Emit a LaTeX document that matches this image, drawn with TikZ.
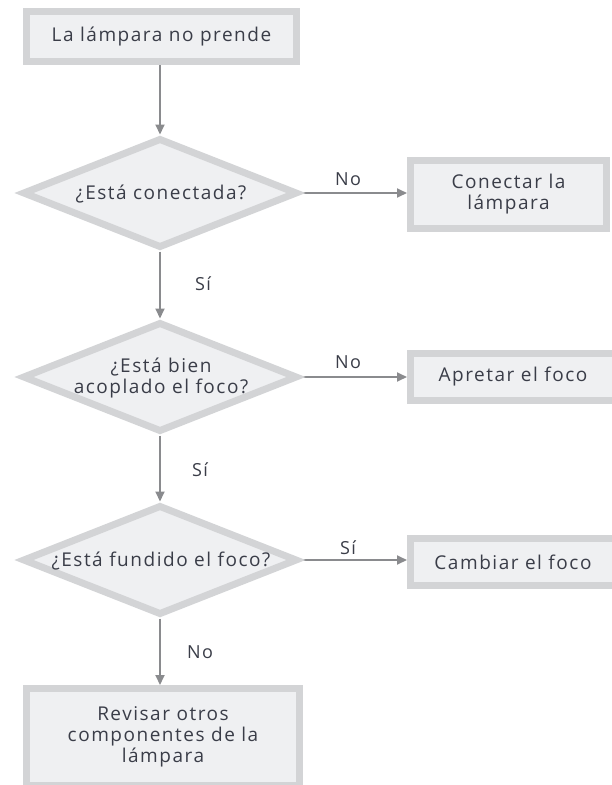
\documentclass[tikz,border=0pt]{standalone}
\usepackage{fontspec}
\setmainfont{Open Sans}[LetterSpace=8]
\usetikzlibrary{shapes.geometric,arrows.meta}
\definecolor{bordergray}{HTML}{D3D4D6}
\definecolor{fillgray}{HTML}{EFF0F2}
\definecolor{arrgray}{HTML}{8A8B8E}
\definecolor{txt}{HTML}{3A3D48}
\pgfdeclarelayer{bg}
\pgfsetlayers{bg,main}
\tikzset{
  box/.style={rectangle, draw=bordergray, line width=7pt, fill=fillgray, inner sep=0pt,
    align=center, text=txt, font=\fontsize{19}{21}\selectfont},
  dia/.style={diamond, draw=bordergray, line width=7pt, fill=fillgray, inner sep=0pt,
    minimum width=275pt, minimum height=110pt},
  diatext/.style={align=center, text=txt, font=\fontsize{19}{21}\selectfont, inner sep=0pt},
  arr/.style={draw=arrgray, line width=1.8pt, -{Triangle[length=10pt,width=9pt]}},
  lbl/.style={text=txt, font=\fontsize{18}{21}\selectfont, inner sep=0pt}
}
\begin{document}
\begin{tikzpicture}[x=1pt,y=-1pt]
\useasboundingbox (0,0) rectangle (611,785);
\node[box, minimum width=270pt, minimum height=50pt] (start) at (161.5,36.5) {La lámpara no prende};
\node[dia] (d1) at (160,193) {};
\node[diatext] (d1t) at (161,194) {¿Está conectada?};
\node[box, minimum width=196pt, minimum height=68pt] (c1) at (508.5,194.5) {Conectar la\\lámpara};
\node[dia] (d2) at (160,377) {};
\node[diatext] (d2t) at (161,378) {¿Está bien\\acoplado el foco?};
\node[box, minimum width=205pt, minimum height=47pt] (c2) at (513,377) {Apretar el foco};
\node[dia] (d3) at (160,560) {};
\node[diatext] (d3t) at (161,561) {¿Está fundido el foco?};
\node[box, minimum width=205pt, minimum height=47pt] (c3) at (513,562) {Cambiar el foco};
\node[box, minimum width=273pt, minimum height=97pt] (end) at (163,737) {Revisar otros\\componentes de la\\lámpara};
\begin{pgfonlayer}{bg}
\draw[arr] (start.south -| d1.north) -- (d1.north);
\draw[arr] (d1.south) -- (d2.north);
\draw[arr] (d2.south) -- (d3.north);
\draw[arr] (d3.south) -- (d3.south |- end.north);
\draw[arr] (d1.east) -- (d1.east -| c1.west);
\draw[arr] (d2.east) -- (d2.east -| c2.west);
\draw[arr] (d3.east) -- (d3.east -| c3.west);
\end{pgfonlayer}
\node[lbl] (l1) at (348,179) {No};
\node[lbl] (l2) at (203,284) {Sí};
\node[lbl] (l3) at (348,362) {No};
\node[lbl] (l4) at (200,470) {Sí};
\node[lbl] (l5) at (348,548) {Sí};
\node[lbl] (l6) at (200,652) {No};
\end{tikzpicture}
\end{document}
